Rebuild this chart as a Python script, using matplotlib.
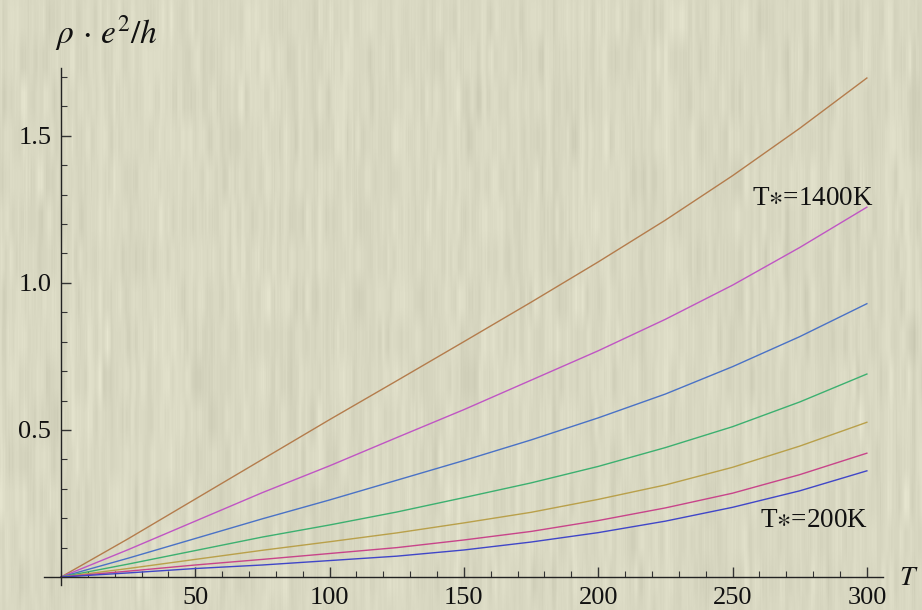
import matplotlib
matplotlib.use("Agg")
import matplotlib.pyplot as plt
import numpy as np
from matplotlib.ticker import MultipleLocator, FixedLocator

plt.rcParams['font.family'] = ['Liberation Serif', 'DejaVu Serif']
plt.rcParams['mathtext.fontset'] = 'stix'

# Data (temperature T in K, rho*e^2/h)
T = [0, 25, 50, 75, 100, 125, 150, 175, 200, 225, 250, 275, 300]
rho_1400 = [0, 0.130, 0.265, 0.400, 0.535, 0.667, 0.800, 0.934, 1.071, 1.213, 1.364, 1.525, 1.696]
rho_1200 = [0, 0.093, 0.190, 0.287, 0.378, 0.474, 0.569, 0.669, 0.769, 0.876, 0.992, 1.120, 1.257]
rho_1000 = [0, 0.064, 0.131, 0.198, 0.262, 0.329, 0.396, 0.466, 0.541, 0.622, 0.715, 0.817, 0.929]
rho_800 = [0, 0.044, 0.090, 0.136, 0.177, 0.221, 0.270, 0.320, 0.376, 0.440, 0.511, 0.595, 0.690]
rho_600 = [0, 0.029, 0.060, 0.091, 0.120, 0.150, 0.184, 0.220, 0.264, 0.313, 0.373, 0.445, 0.526]
rho_400 = [0, 0.020, 0.041, 0.060, 0.080, 0.100, 0.126, 0.155, 0.192, 0.235, 0.285, 0.348, 0.421]
rho_200 = [0, 0.014, 0.029, 0.041, 0.056, 0.071, 0.092, 0.119, 0.151, 0.190, 0.237, 0.293, 0.361]

series = [rho_1400, rho_1200, rho_1000, rho_800, rho_600, rho_400, rho_200]
colors = ['#b47c4c', '#c055c4', '#4a72c6', '#3cb070', '#b9a04a', '#c8448a', '#4046c8']

bg = '#d9d8c1'
W, H = 922, 610
fig = plt.figure(figsize=(W / 100, H / 100), dpi=100, facecolor=bg)

# decorative paper texture (soft vertical streaks), not data
rng = np.random.default_rng(3)
cols = rng.normal(0, 1, W + 20)
cols = np.convolve(cols, np.ones(4) / 2.0, mode='same')[10:W + 10]
blk = rng.normal(0, 1, (H // 40 + 2, W + 20))
blk = np.array([np.convolve(r, np.ones(5) / 2.2, mode='same')[10:W + 10] for r in blk])
blk = np.repeat(blk, 40, axis=0)[:H]
blk = np.apply_along_axis(lambda c: np.convolve(c, np.ones(25) / 25, mode='same'), 0, blk)
tex = 0.45 * cols[None, :] + 0.8 * blk
base = np.array([217, 216, 194], dtype=float) / 255.0
img = np.clip(base[None, None, :] + 0.016 * tex[:, :, None], 0, 1)
fig.figimage(img, xo=0, yo=0, zorder=0, origin='upper')

ax = fig.add_axes([44 / W, 25 / H, 839 / W, 517 / H])
ax.set_zorder(2)
ax.set_facecolor('none')

for ys, c in zip(series, colors):
    ax.plot(T, ys, color=c, lw=1.0, solid_joinstyle='round')

ax.set_xlim(-6.3, 306)
ax.set_ylim(-0.027, 1.73)

for s in ['top', 'right']:
    ax.spines[s].set_visible(False)
ax.spines['left'].set_position(('data', 0))
ax.spines['bottom'].set_position(('data', 0))
for s in ['left', 'bottom']:
    ax.spines[s].set_color('#222222')
    ax.spines[s].set_linewidth(1.0)

ax.xaxis.set_major_locator(FixedLocator([50, 100, 150, 200, 250, 300]))
ax.xaxis.set_minor_locator(MultipleLocator(10))
ax.yaxis.set_major_locator(FixedLocator([0.5, 1.0, 1.5]))
ax.yaxis.set_minor_locator(MultipleLocator(0.1))
ax.set_yticklabels(['0.5', '1.0', '1.5'])

ax.tick_params(which='major', direction='in', length=7, width=1.0, color='#333333',
               labelsize=19, labelcolor='#111111')
ax.tick_params(which='minor', direction='in', length=4.5, width=0.8, color='#333333')
ax.tick_params(axis='x', which='major', pad=7)
ax.tick_params(axis='y', which='major', pad=7)

ax.text(302.5, 1.265, r'T$\ast$=1400K', fontsize=19.5, ha='right', va='baseline', color='#111111')
ax.text(300.5, 0.170, r'T$\ast$=200K', fontsize=19.5, ha='right', va='baseline', color='#111111')

t1 = fig.text(55 / W, 1 - 43 / H, r'$\rho\,\cdot\,e^2/h$', fontsize=24, ha='left', va='baseline', color='#111111')
t2 = fig.text(899 / W, 1 - 585 / H, r'$T$', fontsize=20, ha='left', va='baseline', color='#111111')
t1.set_zorder(3)
t2.set_zorder(3)

fig.savefig('out.png', dpi=100, facecolor=bg)
